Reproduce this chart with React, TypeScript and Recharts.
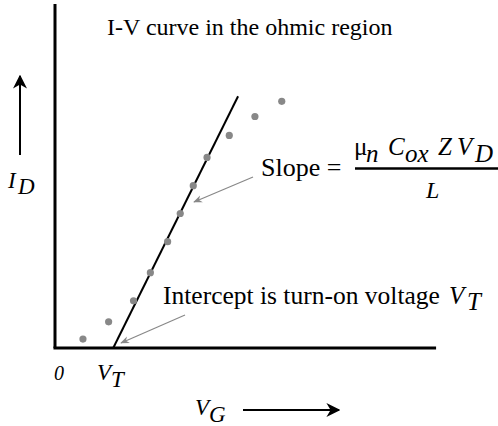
import React from "react";
import { ComposedChart, Customized, Line, ReferenceLine, Scatter, XAxis, YAxis } from "recharts";

// measured points (V_G, I_D) in arbitrary units
const gateVoltage = [7.3, 14.0, 20.5, 24.9, 29.4, 32.7, 36.1, 39.7, 45.5, 52.2, 59.2];
const drainCurrent = [2.6, 7.6, 13.7, 21.9, 30.9, 39.1, 47.2, 55.4, 61.8, 67.3, 71.7];

// straight-line fit through the linear part
const fitVoltage = [15.2, 47.8];
const fitCurrent = [0, 73.2];

const points = gateVoltage.map((v, k) => ({ v, i: drainCurrent[k] }));
const fit = fitVoltage.map((v, k) => ({ v, i: fitCurrent[k] }));

const serif = "'Liberation Serif', 'Times New Roman', serif";
const gray = "#888";
const txt = (size: number, italic = false) => ({
  fontFamily: serif,
  fontSize: size,
  fill: "#000",
  fontStyle: italic ? ("italic" as const) : ("normal" as const),
});

function Annotations() {
  const num = txt(25, true);
  return (
    <g>
      <defs>
        <marker id="blackHead" viewBox="0 0 10 10" refX="9" refY="5" markerWidth="7" markerHeight="7" orient="auto">
          <path d="M0,0 L10,5 L0,10 L3,5 z" fill="#000" />
        </marker>
        <marker id="grayHead" viewBox="0 0 10 10" refX="9" refY="5" markerWidth="9" markerHeight="9" orient="auto" markerUnits="userSpaceOnUse">
          <path d="M0,1 L10,5 L0,9 L3,5 z" fill={gray} />
        </marker>
      </defs>

      <text x={107} y={35} style={txt(24)}>I-V curve in the ohmic region</text>

      {/* slope label */}
      <text x={261} y={176} style={txt(26)}>Slope =</text>
      <text style={num}>
        <tspan x={354} y={155} style={txt(25)}>μ</tspan>
        <tspan x={366} y={162}>n</tspan>
        <tspan x={388} y={155}>C</tspan>
        <tspan x={405} y={162}>ox</tspan>
        <tspan x={438} y={155}>Z</tspan>
        <tspan x={457} y={155}>V</tspan>
        <tspan x={475} y={162}>D</tspan>
      </text>
      <line x1={355} x2={498} y1={168.5} y2={168.5} stroke="#000" strokeWidth={2.5} />
      <text x={426} y={198} style={txt(24, true)}>L</text>
      <line x1={253} y1={177} x2={194} y2={202} stroke={gray} strokeWidth={1.2} markerEnd="url(#grayHead)" />

      {/* intercept label */}
      <text x={163} y={304} style={txt(25.5)}>Intercept is turn-on voltage</text>
      <text style={txt(25, true)}>
        <tspan x={449} y={304}>V</tspan>
        <tspan x={467} y={310}>T</tspan>
      </text>
      <line x1={185} y1={315} x2={121} y2={343} stroke={gray} strokeWidth={1.2} markerEnd="url(#grayHead)" />

      {/* axis labels */}
      <line x1={20} y1={155} x2={20} y2={76} stroke="#000" strokeWidth={2} markerEnd="url(#blackHead)" />
      <text style={txt(23, true)}>
        <tspan x={8} y={188}>I</tspan>
        <tspan x={18} y={194}>D</tspan>
      </text>

      <text x={54} y={380} style={txt(20, true)}>0</text>
      <text style={txt(23, true)}>
        <tspan x={97} y={380}>V</tspan>
        <tspan x={111} y={387}>T</tspan>
      </text>

      <text style={txt(23, true)}>
        <tspan x={195} y={415}>V</tspan>
        <tspan x={209} y={422}>G</tspan>
      </text>
      <line x1={243} y1={410} x2={339} y2={410} stroke="#000" strokeWidth={2} markerEnd="url(#blackHead)" />
    </g>
  );
}

export default function App() {
  return (
    <div style={{ position: "absolute", left: 0, top: 0, background: "#fff" }}>
      <ComposedChart width={498} height={426} margin={{ top: 4, right: 60, bottom: 78, left: 55 }}>
        <XAxis type="number" dataKey="v" domain={[0, 100]} hide />
        <YAxis type="number" dataKey="i" domain={[0, 100]} hide />
        <ReferenceLine
          segment={[{ x: 0, y: 0 }, { x: 0, y: 100 }]}
          stroke="#000"
          strokeWidth={3}
          ifOverflow="visible"
        />
        <ReferenceLine
          segment={[{ x: -0.4, y: 0 }, { x: 99.5, y: 0 }]}
          stroke="#000"
          strokeWidth={3}
          ifOverflow="visible"
        />
        <Line
          data={fit}
          dataKey="i"
          type="linear"
          stroke="#000"
          strokeWidth={2}
          dot={false}
          isAnimationActive={false}
        />
        <Scatter
          data={points}
          dataKey="i"
          fill={gray}
          shape={(p: any) => <circle cx={p.cx} cy={p.cy} r={3.6} fill={gray} />}
          isAnimationActive={false}
        />
        <Customized component={<Annotations />} />
      </ComposedChart>
    </div>
  );
}
